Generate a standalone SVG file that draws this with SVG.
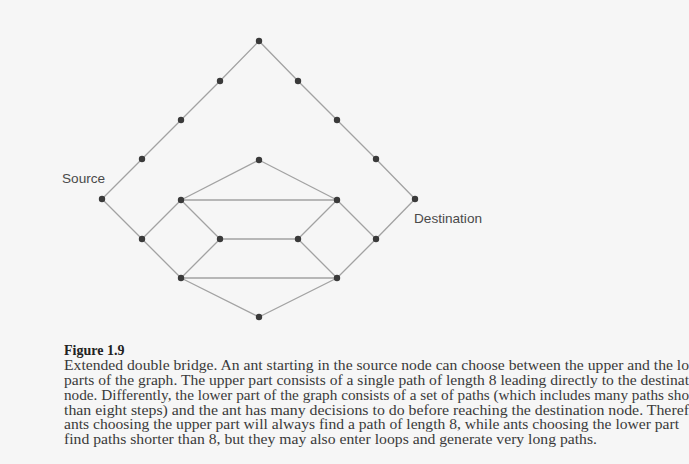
<svg xmlns="http://www.w3.org/2000/svg" width="689" height="464" viewBox="0 0 689 464">
<style>
.edge{stroke:#a2a2a2;stroke-width:1.3;fill:none}
.node{fill:#3a3a3a}
.lbl{font-family:"Liberation Sans",Arial,sans-serif;font-size:13.6px;fill:#4a4a4a}
.cap{font-family:"Liberation Serif","Times New Roman",serif;font-size:15px;fill:#3a3a3a}
.fig{font-family:"Liberation Serif","Times New Roman",serif;font-size:14px;font-weight:bold;fill:#222}
</style>
<rect width="689" height="464" fill="#f6f6f6"/>
<g id="connectors" class="edge">
<polyline points="102,199 142,159 181,120 220,81 259,41 298,81 337,120 376,159 415,199"/>
<line x1="102" y1="199" x2="142" y2="239"/>
<line x1="142" y1="239" x2="181" y2="200"/>
<line x1="142" y1="239" x2="181" y2="278"/>
<line x1="181" y1="200" x2="259" y2="160"/>
<line x1="259" y1="160" x2="337" y2="200"/>
<line x1="181" y1="200" x2="337" y2="200"/>
<line x1="181" y1="200" x2="220" y2="239"/>
<line x1="220" y1="239" x2="298" y2="239"/>
<line x1="220" y1="239" x2="181" y2="278"/>
<line x1="298" y1="239" x2="337" y2="200"/>
<line x1="298" y1="239" x2="337" y2="278"/>
<line x1="181" y1="278" x2="337" y2="278"/>
<line x1="181" y1="278" x2="259" y2="317"/>
<line x1="259" y1="317" x2="337" y2="278"/>
<line x1="337" y1="278" x2="376" y2="239"/>
<line x1="376" y1="239" x2="337" y2="200"/>
<line x1="376" y1="239" x2="415" y2="199"/>
</g>
<g id="n-source" class="node"><circle cx="102" cy="199" r="3.2"/></g>
<g id="n-u1" class="node"><circle cx="142" cy="159" r="3.2"/></g>
<g id="n-u2" class="node"><circle cx="181" cy="120" r="3.2"/></g>
<g id="n-u3" class="node"><circle cx="220" cy="81" r="3.2"/></g>
<g id="n-top" class="node"><circle cx="259" cy="41" r="3.2"/></g>
<g id="n-u5" class="node"><circle cx="298" cy="81" r="3.2"/></g>
<g id="n-u6" class="node"><circle cx="337" cy="120" r="3.2"/></g>
<g id="n-u7" class="node"><circle cx="376" cy="159" r="3.2"/></g>
<g id="n-dest" class="node"><circle cx="415" cy="199" r="3.2"/></g>
<g id="n-itop" class="node"><circle cx="259" cy="160" r="3.2"/></g>
<g id="n-lm" class="node"><circle cx="181" cy="200" r="3.2"/></g>
<g id="n-rm" class="node"><circle cx="337" cy="200" r="3.2"/></g>
<g id="n-ll" class="node"><circle cx="142" cy="239" r="3.2"/></g>
<g id="n-il" class="node"><circle cx="220" cy="239" r="3.2"/></g>
<g id="n-ir" class="node"><circle cx="298" cy="239" r="3.2"/></g>
<g id="n-rr" class="node"><circle cx="376" cy="239" r="3.2"/></g>
<g id="n-bl" class="node"><circle cx="181" cy="278" r="3.2"/></g>
<g id="n-br" class="node"><circle cx="337" cy="278" r="3.2"/></g>
<g id="n-bot" class="node"><circle cx="259" cy="317" r="3.2"/></g>
<text class="lbl" x="62" y="183">Source</text>
<text class="lbl" x="414" y="223">Destination</text>
<g id="caption">
<text class="fig" x="64" y="355">Figure 1.9</text>
<text class="cap" x="64" y="370" textLength="625" lengthAdjust="spacingAndGlyphs">Extended double bridge. An ant starting in the source node can choose between the upper and the lo</text>
<text class="cap" x="64" y="385" textLength="625" lengthAdjust="spacingAndGlyphs">parts of the graph. The upper part consists of a single path of length 8 leading directly to the destinat</text>
<text class="cap" x="64" y="400" textLength="625" lengthAdjust="spacingAndGlyphs">node. Differently, the lower part of the graph consists of a set of paths (which includes many paths sho</text>
<text class="cap" x="64" y="414.5" textLength="625" lengthAdjust="spacingAndGlyphs">than eight steps) and the ant has many decisions to do before reaching the destination node. Theref</text>
<text class="cap" x="64" y="429" textLength="615" lengthAdjust="spacingAndGlyphs">ants choosing the upper part will always find a path of length 8, while ants choosing the lower part</text>
<text class="cap" x="64" y="444" textLength="533" lengthAdjust="spacingAndGlyphs">find paths shorter than 8, but they may also enter loops and generate very long paths.</text>
</g>
</svg>
